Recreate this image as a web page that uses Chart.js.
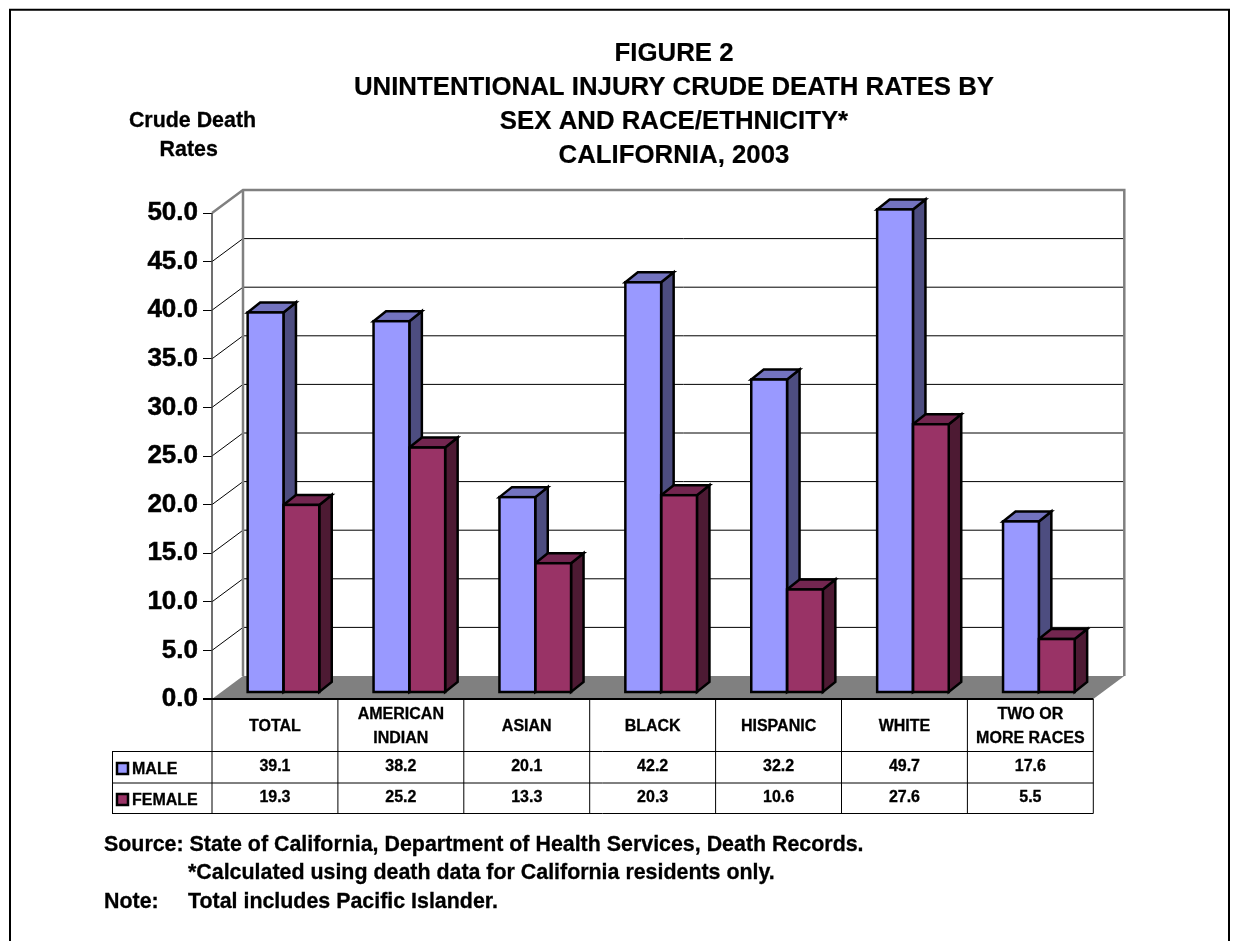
<!DOCTYPE html>
<html>
<head>
<meta charset="utf-8">
<title>Figure 2</title>
<script src="https://cdn.jsdelivr.net/npm/chart.js@4"></script>
<style>
  html, body { margin: 0; padding: 0; background: #fff; }
  #box { width: 1233px; height: 941px; }
</style>
</head>
<body>
<div id="box"><canvas id="chart" width="1233" height="941"></canvas></div>
<script>
const categories = ['TOTAL', ['AMERICAN', 'INDIAN'], 'ASIAN', 'BLACK', 'HISPANIC', 'WHITE', ['TWO OR', 'MORE RACES']];
const male = [39.1, 38.2, 20.1, 42.2, 32.2, 49.7, 17.6];
const female = [19.3, 25.2, 13.3, 20.3, 10.6, 27.6, 5.5];

const titleLines = ['FIGURE 2', 'UNINTENTIONAL INJURY CRUDE DEATH RATES BY', 'SEX AND RACE/ETHNICITY*', 'CALIFORNIA, 2003'];
const yTitleLines = ['Crude Death', 'Rates'];

const FONT = '"Liberation Sans", Arial, sans-serif';

// shades for the fake 3d faces
const faces = [
  { side: '#4d4d80', top: '#7373bf' },
  { side: '#4d1a33', top: '#732650' }
];

// wall depth and how far the bars stand in front of the axis plane
const wall = { dx: 31, dy: -23 };
const shift = { dx: 8.5, dy: -6.5 };
const barDepth = { dx: 12.5, dy: -10 };

function poly(ctx, pts, fill, stroke, lw) {
  ctx.beginPath();
  pts.forEach((p, i) => (i ? ctx.lineTo(p[0], p[1]) : ctx.moveTo(p[0], p[1])));
  ctx.closePath();
  if (fill) {
    ctx.fillStyle = fill;
    ctx.fill();
  }
  if (stroke) {
    ctx.strokeStyle = stroke;
    ctx.lineWidth = lw;
    ctx.stroke();
  }
}

function line(ctx, x1, y1, x2, y2, color, lw) {
  ctx.beginPath();
  ctx.moveTo(x1, y1);
  ctx.lineTo(x2, y2);
  ctx.strokeStyle = color;
  ctx.lineWidth = lw;
  ctx.stroke();
}

// slight outline because the reference text is heavier than plain bold
function text(ctx, str, x, y, font, align, heavy) {
  ctx.font = font;
  ctx.fillStyle = '#000';
  ctx.textAlign = align || 'center';
  ctx.textBaseline = 'middle';
  ctx.fillText(str, x, y);
  if (heavy) {
    ctx.strokeStyle = '#000';
    ctx.lineWidth = heavy;
    ctx.strokeText(str, x, y);
  }
}

const box3d = {
  id: 'box3d',
  beforeDatasetsDraw(chart) {
    const ctx = chart.ctx;
    const yScale = chart.scales.y;
    const a = chart.chartArea;
    const y0 = yScale.getPixelForValue(0);
    const yTop = yScale.getPixelForValue(50);
    ctx.save();
    ctx.lineJoin = 'miter';

    // grid lines on side wall and back wall
    yScale.ticks.forEach((t) => {
      if (t.value === 0 || t.value === 50) return;
      const y = yScale.getPixelForValue(t.value);
      line(ctx, a.left, y, a.left + wall.dx, y + wall.dy, '#000', 1);
      line(ctx, a.left + wall.dx, y + wall.dy, a.right + wall.dx, y + wall.dy, '#000', 1);
    });

    // wall frame
    ctx.beginPath();
    ctx.moveTo(a.left, yTop);
    ctx.lineTo(a.left + wall.dx, yTop + wall.dy);
    ctx.lineTo(a.right + wall.dx, yTop + wall.dy);
    ctx.lineTo(a.right + wall.dx, y0 + wall.dy);
    ctx.strokeStyle = '#808080';
    ctx.lineWidth = 2.5;
    ctx.stroke();
    line(ctx, a.left + wall.dx, yTop + wall.dy, a.left + wall.dx, y0 + wall.dy, '#808080', 2.5);
    line(ctx, a.left, yTop, a.left, y0, '#404040', 1.5);

    // floor
    poly(ctx, [[a.left, y0], [a.left + wall.dx, y0 + wall.dy], [a.right + wall.dx, y0 + wall.dy], [a.right, y0]], '#808080');
    line(ctx, a.left - 9, y0, a.right, y0, '#000', 2);

    // side and top faces, front faces come from the library after this
    ctx.translate(shift.dx, shift.dy);
    chart.data.datasets.forEach((ds, d) => {
      chart.getDatasetMeta(d).data.forEach((bar) => {
        const l = bar.x - bar.width / 2;
        const r = bar.x + bar.width / 2;
        poly(ctx, [[r, bar.y], [r + barDepth.dx, bar.y + barDepth.dy], [r + barDepth.dx, bar.base + barDepth.dy], [r, bar.base]], faces[d].side, '#000', 2.5);
        poly(ctx, [[l, bar.y], [l + barDepth.dx, bar.y + barDepth.dy], [r + barDepth.dx, bar.y + barDepth.dy], [r, bar.y]], faces[d].top, '#000', 2.5);
      });
    });
  },
  afterDatasetsDraw(chart) {
    const ctx = chart.ctx;
    chart.data.datasets.forEach((ds, d) => {
      chart.getDatasetMeta(d).data.forEach((bar) => {
        ctx.strokeStyle = '#000';
        ctx.lineWidth = 2.5;
        ctx.strokeRect(bar.x - bar.width / 2, bar.y, bar.width, bar.base - bar.y);
      });
    });
    ctx.restore();
  },
  afterDraw(chart) {
    const ctx = chart.ctx;
    const xScale = chart.scales.x;
    const a = chart.chartArea;
    const cw = (a.right - a.left) / categories.length;
    const rows = [751.5, 783, 813.5];
    ctx.save();

    // page frame, open at the bottom
    ctx.beginPath();
    ctx.moveTo(10, 941);
    ctx.lineTo(10, 9.8);
    ctx.lineTo(1229, 9.8);
    ctx.lineTo(1229, 941);
    ctx.strokeStyle = '#000';
    ctx.lineWidth = 2;
    ctx.stroke();

    // data table
    for (let i = 0; i <= categories.length; i++) {
      const x = a.left + i * cw;
      line(ctx, x, a.bottom, x, rows[2], '#000', 1);
    }
    line(ctx, 112.5, rows[0], 112.5, rows[2], '#000', 1);
    rows.forEach((y) => line(ctx, 112, y, a.right, y, '#000', 1));

    chart.data.datasets.forEach((ds, d) => {
      const y = [766.4, 798][d];
      ds.data.forEach((v, i) => {
        text(ctx, v.toFixed(1), xScale.getPixelForTick(i), y, 'bold 16px ' + FONT, 'center', 0.3);
      });
      // legend key in the first column
      const ky = [763, 794][d];
      ctx.fillStyle = ds.backgroundColor;
      ctx.strokeStyle = '#000';
      ctx.lineWidth = 2.5;
      ctx.fillRect(117, ky, 11, 11);
      ctx.strokeRect(117, ky, 11, 11);
      text(ctx, ds.label, 132, [769.4, 800.4][d], 'bold 16px ' + FONT, 'left', 0.3);
    });

    // headings and notes
    const tf = 'bold 25.8px ' + FONT;
    titleLines.forEach((s, i) => text(ctx, s, 674, 53.4 + i * 34.2, tf, 'center', 0.2));
    const yf = 'bold 21.4px ' + FONT;
    text(ctx, yTitleLines[0], 192.5, 121.3, yf, 'center', 0.3);
    text(ctx, yTitleLines[1], 188.7, 149.7, yf, 'center', 0.3);
    const nf = 'bold 21.4px ' + FONT;
    text(ctx, 'Source: State of California, Department of Health Services, Death Records.', 104, 845.3, nf, 'left', 0.3);
    text(ctx, '*Calculated using death data for California residents only.', 188, 873.5, nf, 'left', 0.3);
    text(ctx, 'Note:', 104, 902, nf, 'left', 0.3);
    text(ctx, 'Total includes Pacific Islander.', 188, 902, nf, 'left', 0.3);
    ctx.restore();
  }
};

new Chart(document.getElementById('chart'), {
  type: 'bar',
  data: {
    labels: categories,
    datasets: [
      { label: 'MALE', data: male, backgroundColor: '#9999ff', borderWidth: 0, clip: false, inflateAmount: 0 },
      { label: 'FEMALE', data: female, backgroundColor: '#993366', borderWidth: 0, clip: false, inflateAmount: 0 }
    ]
  },
  plugins: [box3d],
  options: {
    responsive: false,
    animation: false,
    layout: {
      autoPadding: false,
      padding: { left: 0, right: 139.7, top: 213, bottom: 192 }
    },
    plugins: {
      legend: { display: false },
      title: { display: false },
      tooltip: { enabled: false }
    },
    datasets: {
      bar: { categoryPercentage: 0.5687, barPercentage: 1 }
    },
    scales: {
      x: {
        afterFit(s) { s.height = 50; },
        grid: { display: false },
        border: { display: false },
        ticks: {
          color: '#000',
          font: { family: FONT, size: 16, weight: 'bold', lineHeight: 1.5 },
          textStrokeColor: '#000',
          textStrokeWidth: 0.3,
          maxRotation: 0,
          autoSkip: false,
          crossAlign: 'center',
          padding: 7.5
        }
      },
      y: {
        min: 0,
        max: 50,
        afterFit(s) { s.width = 212; },
        border: { display: false },
        grid: { drawOnChartArea: false, tickLength: 9, tickColor: '#000', tickWidth: 1 },
        ticks: {
          color: '#000',
          stepSize: 5,
          padding: 5,
          font: { family: FONT, size: 26, weight: 'bold' },
          textStrokeColor: '#000',
          textStrokeWidth: 0.5,
          callback: (v) => v.toFixed(1)
        }
      }
    }
  }
});
</script>
</body>
</html>
